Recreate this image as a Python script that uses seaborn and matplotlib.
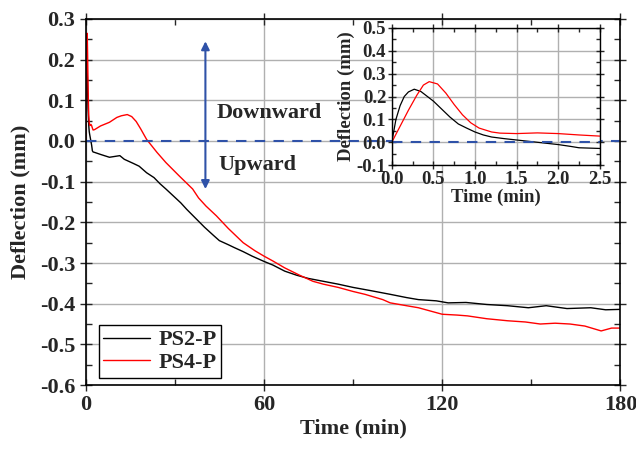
import numpy as np
import pandas as pd
import matplotlib
matplotlib.use("Agg")
import matplotlib.pyplot as plt
import seaborn as sns
from matplotlib.ticker import MultipleLocator, FormatStrFormatter

# Inset data (first 2.5 min)
inset_t_ps2 = [0, 0.05, 0.1, 0.15, 0.2, 0.27, 0.35, 0.5, 0.6, 0.7, 0.8, 0.9, 1.0, 1.1, 1.2, 1.35, 1.5, 1.75, 2.0, 2.15, 2.25, 2.5]
inset_ps2 = [0.0, 0.1, 0.16, 0.2, 0.22, 0.232, 0.222, 0.18, 0.145, 0.11, 0.08, 0.062, 0.045, 0.032, 0.023, 0.016, 0.01, 0.0, -0.01, -0.018, -0.024, -0.027]
inset_t_ps4 = [0, 0.1, 0.2, 0.3, 0.38, 0.45, 0.55, 0.65, 0.75, 0.85, 0.95, 1.05, 1.2, 1.3, 1.5, 1.75, 2.0, 2.25, 2.5]
inset_ps4 = [0.0, 0.07, 0.14, 0.205, 0.25, 0.265, 0.255, 0.215, 0.165, 0.12, 0.085, 0.062, 0.045, 0.04, 0.038, 0.041, 0.038, 0.032, 0.027]

# Main data (after 2.5 min)
t_ps2 = [3, 5, 8, 11.5, 13, 16, 18, 20.5, 23, 25, 27, 29.5, 32, 34, 37, 40, 43, 45, 48, 50, 53, 56, 60, 63, 67, 71, 75,
         80, 85, 90, 96, 102.5, 108, 112, 118, 122, 128, 135, 142, 149, 155, 162, 170, 175, 180]
ps2 = [-0.028, -0.033, -0.04, -0.036, -0.045, -0.055, -0.062, -0.078, -0.09, -0.105, -0.118, -0.135, -0.152, -0.168, -0.19,
       -0.212, -0.232, -0.245, -0.255, -0.262, -0.272, -0.283, -0.296, -0.305, -0.32, -0.33, -0.338,
       -0.345, -0.352, -0.36, -0.368, -0.377, -0.385, -0.39, -0.393, -0.398, -0.397, -0.402, -0.405, -0.41, -0.405,
       -0.412, -0.41, -0.415, -0.414]
t_ps4 = [3, 5, 8, 10.5, 12, 14, 15.5, 17, 18.5, 20.5, 24, 27, 31.5, 36, 38, 40.5, 44, 48, 53, 57, 60, 63, 67, 72, 76.5,
         80, 85, 90, 94, 100, 102.5, 108, 112, 116, 120, 125, 128.5, 135, 142, 148, 153, 158, 163, 168, 173.5, 177, 180]
ps4 = [0.028, 0.037, 0.046, 0.058, 0.062, 0.065, 0.06, 0.048, 0.03, 0.004, -0.028, -0.053, -0.086, -0.118, -0.14, -0.16,
       -0.184, -0.215, -0.25, -0.27, -0.283, -0.295, -0.312, -0.33, -0.345, -0.352, -0.36, -0.37, -0.377, -0.39,
       -0.398, -0.405, -0.41, -0.418, -0.426, -0.428, -0.43, -0.437, -0.442, -0.445, -0.45, -0.448, -0.45, -0.455,
       -0.467, -0.46, -0.46]

main_df = pd.concat([
    pd.DataFrame({"Time": inset_t_ps2 + t_ps2, "Deflection": inset_ps2 + ps2, "Specimen": "PS2-P"}),
    pd.DataFrame({"Time": inset_t_ps4 + t_ps4, "Deflection": inset_ps4 + ps4, "Specimen": "PS4-P"}),
])
inset_df = pd.concat([
    pd.DataFrame({"Time": inset_t_ps2, "Deflection": inset_ps2, "Specimen": "PS2-P"}),
    pd.DataFrame({"Time": inset_t_ps4, "Deflection": inset_ps4, "Specimen": "PS4-P"}),
])

sns.set_style("ticks")
plt.rcParams["font.family"] = ["Liberation Serif", "DejaVu Serif"]
plt.rcParams["font.weight"] = "bold"
plt.rcParams["axes.unicode_minus"] = False

palette = {"PS2-P": "black", "PS4-P": "red"}
blue = "#2F52A8"
grid_c = "#b0b0b0"

fig = plt.figure(figsize=(6.36, 4.5), dpi=100)
ax = fig.add_axes([0.1347, 0.1444, 0.8409, 0.8134])

ax.grid(True, color=grid_c, linewidth=1.0)
ax.set_axisbelow(True)
sns.lineplot(data=main_df, x="Time", y="Deflection", hue="Specimen", palette=palette,
             estimator=None, sort=False, linewidth=1.0, ax=ax, legend=False)
ax.axhline(0, color=blue, linestyle=(0, (5, 4)), linewidth=1.5)

ax.set_xlim(0, 180)
ax.set_ylim(-0.6, 0.3)
ax.xaxis.set_major_locator(MultipleLocator(60))
ax.xaxis.set_minor_locator(MultipleLocator(30))
ax.yaxis.set_major_locator(MultipleLocator(0.1))
ax.yaxis.set_minor_locator(MultipleLocator(0.05))
ax.yaxis.set_major_formatter(FormatStrFormatter("%.1f"))
ax.tick_params(which="major", direction="inout", length=9, width=1, top=True, right=True,
               labelsize=16, pad=3)
ax.tick_params(which="minor", direction="in", length=4, width=1, top=True, right=True)
for lbl in ax.get_xticklabels() + ax.get_yticklabels():
    lbl.set_fontweight("bold")
ax.set_xlabel("Time (min)", fontsize=16, fontweight="bold", labelpad=2)
ax.set_ylabel("Deflection (mm)", fontsize=16, fontweight="bold", labelpad=7)
for s in ax.spines.values():
    s.set_linewidth(1.2)
    s.set_color("black")

# arrow + annotations
ax.annotate("", xy=(40.3, 0.252), xytext=(40.3, -0.125),
            arrowprops=dict(arrowstyle="<|-|>", color=blue, lw=1.5, mutation_scale=12))
ax.text(44, 0.07, "Downward", fontsize=16, fontweight="bold", va="center", ha="left")
ax.text(44.6, -0.06, "Upward", fontsize=16, fontweight="bold", va="center", ha="left")

handles = [plt.Line2D([], [], color=palette[k], lw=1.0) for k in palette]
leg = ax.legend(handles, list(palette.keys()), loc="lower left", bbox_to_anchor=(0.016, 0.008),
                fancybox=False, edgecolor="black", framealpha=1, fontsize=16,
                handlelength=2.1, borderpad=0.2, labelspacing=0.1, handletextpad=0.4,
                borderaxespad=0.2)
leg.get_frame().set_linewidth(1.0)
for t in leg.get_texts():
    t.set_fontweight("bold")

# inset
axi = fig.add_axes([0.616, 0.633, 0.327, 0.305])
axi.set_facecolor("white")
axi.grid(True, color=grid_c, linewidth=1.0)
axi.set_axisbelow(True)
sns.lineplot(data=inset_df, x="Time", y="Deflection", hue="Specimen", palette=palette,
             estimator=None, sort=False, linewidth=0.9, ax=axi, legend=False)
axi.axhline(0, color=blue, linestyle=(0, (5, 4)), linewidth=1.5)
axi.set_xlim(0, 2.5)
axi.set_ylim(-0.1, 0.5)
axi.xaxis.set_major_locator(MultipleLocator(0.5))
axi.xaxis.set_minor_locator(MultipleLocator(0.25))
axi.yaxis.set_major_locator(MultipleLocator(0.1))
axi.yaxis.set_minor_locator(MultipleLocator(0.05))
axi.xaxis.set_major_formatter(FormatStrFormatter("%.1f"))
axi.yaxis.set_major_formatter(FormatStrFormatter("%.1f"))
axi.tick_params(which="major", direction="inout", length=6, width=1, top=True, right=True,
                labelsize=13.5, pad=1)
axi.tick_params(which="minor", direction="in", length=3, width=1, top=True, right=True)
for lbl in axi.get_xticklabels() + axi.get_yticklabels():
    lbl.set_fontweight("bold")
axi.set_xlabel("Time (min)", fontsize=13.5, fontweight="bold", labelpad=1)
axi.set_ylabel("Deflection (mm)", fontsize=13.5, fontweight="bold", labelpad=1)
for s in axi.spines.values():
    s.set_linewidth(1.0)
    s.set_color("black")

fig.savefig("out.png", dpi=100)
